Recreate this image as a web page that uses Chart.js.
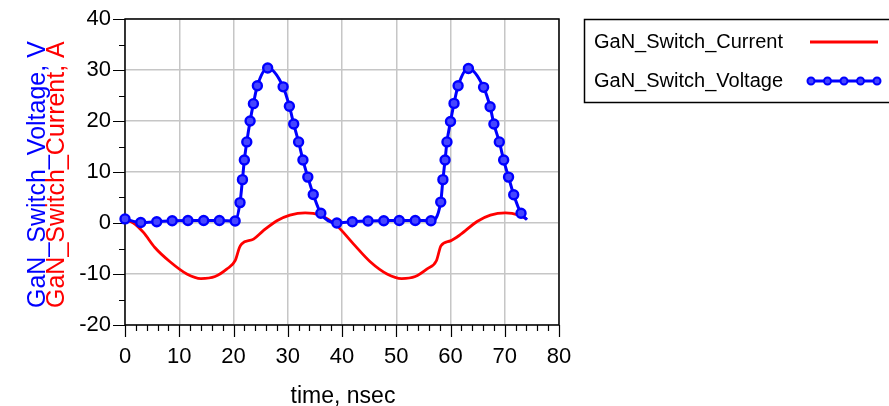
<!DOCTYPE html>
<html lang="en">
<head>
<meta charset="UTF-8">
<title>GaN switch waveforms</title>
<script src="https://cdn.jsdelivr.net/npm/chart.js"></script>
<style>
  body { margin: 0; background: #fff; }
  #wrap { width: 889px; height: 406px; }
</style>
</head>
<body>
<div id="wrap"><canvas id="waveChart" width="889" height="406"></canvas></div>
<script>
// values (time in ns)
const voltTime = [0, 2.9, 5.85, 8.7, 11.6, 14.5, 17.4, 20.3, 21.2, 21.65, 22.0, 22.45, 23.06, 23.67, 24.4, 26.3,
  29.15, 30.3, 31.1, 32.0, 32.8, 33.7, 34.7, 36.1, 39.05, 41.9, 44.8, 47.7, 50.55, 53.5, 56.4, 58.2, 58.6, 59.0,
  59.35, 60.0, 60.65, 61.4, 63.3, 66.1, 67.3, 68.0, 69.0, 69.8, 70.7, 71.65, 73.0, 74.1];
const voltValues = [0.8, 0.1, 0.25, 0.45, 0.5, 0.5, 0.5, 0.4, 4.0, 8.5, 12.35, 15.9, 20.0, 23.4, 26.9, 30.4,
  26.7, 22.9, 19.4, 15.9, 12.35, 9.0, 5.6, 1.9, 0.0, 0.25, 0.4, 0.45, 0.5, 0.5, 0.45, 4.1, 8.5, 12.35,
  15.9, 19.9, 23.45, 26.9, 30.3, 26.6, 22.8, 19.4, 15.9, 12.35, 9.0, 5.55, 1.9, 0.65];

const currTime = [0, 1.55, 3.4, 5.5, 8.3, 11.4, 14.0, 16.6, 18.8, 20.3, 21.1, 21.5, 23.7, 25.5, 28.0, 30.4, 33.2,
  35.9, 39.05, 42.1, 45.2, 48.3, 51.0, 53.5, 55.7, 57.4, 58.25, 60.0, 61.8, 64.9, 67.35, 70.1, 72.6, 74.0];
const currValues = [0.65, 0, -1.85, -4.8, -7.6, -10.0, -10.9, -10.5, -9.0, -7.4, -4.8, -4.1, -3.15, -1.5, 0.45, 1.55, 2.0,
  1.55, -0.55, -4.1, -7.6, -10.0, -10.9, -10.5, -9.0, -7.4, -4.45, -3.5, -2.3, 0.3, 1.55, 2.0, 1.55, 0.8];

const xTicks = [0, 10, 20, 30, 40, 50, 60, 70, 80];
const yTicks = [-20, -10, 0, 10, 20, 30, 40];

const FONT = 'Liberation Sans, Arial, sans-serif';
const BLUE = '#0000ff';
const RED = '#ff0000';

function pairs(xs, ys) {
  return xs.map((x, i) => ({ x: x, y: ys[i] }));
}

// frame, minor ticks, two-colour axis title and the boxed legend
const decorations = {
  id: 'decorations',
  beforeDatasetsDraw(chart) {
    const { ctx, chartArea: a, scales } = chart;
    ctx.save();
    ctx.strokeStyle = '#000';
    ctx.lineWidth = 1.5;
    ctx.strokeRect(a.left, a.top, a.right - a.left, a.bottom - a.top);
    ctx.lineWidth = 1.2;
    ctx.beginPath();
    for (let v = xTicks[0]; v <= xTicks[xTicks.length - 1]; v += 2) {
      const px = Math.round(scales.x.getPixelForValue(v)) + 0.5;
      const len = v % 10 === 0 ? 12 : 6;
      ctx.moveTo(px, a.bottom);
      ctx.lineTo(px, a.bottom + len);
    }
    for (let v = yTicks[0]; v <= yTicks[yTicks.length - 1]; v += 5) {
      const py = Math.round(scales.y.getPixelForValue(v)) + 0.5;
      const len = v % 10 === 0 ? 12 : 6;
      ctx.moveTo(a.left, py);
      ctx.lineTo(a.left - len, py);
    }
    ctx.stroke();
    ctx.restore();
  },
  afterDraw(chart) {
    const { ctx, chartArea: a } = chart;
    const sets = chart.data.datasets;
    ctx.save();

    // y titles, rotated
    ctx.font = '25px ' + FONT;
    ctx.textBaseline = 'alphabetic';
    ctx.textAlign = 'left';
    ctx.translate(45, 308);
    ctx.rotate(-Math.PI / 2);
    ctx.fillStyle = BLUE;
    ctx.fillText('GaN_Switch_Voltage, V', 0, 0);
    ctx.fillStyle = RED;
    ctx.fillText('GaN_Switch_Current, A', 0, 19);
    ctx.setTransform(1, 0, 0, 1, 0, 0);

    // x title
    ctx.fillStyle = '#000';
    ctx.font = '23px ' + FONT;
    ctx.textAlign = 'center';
    ctx.fillText('time, nsec', (a.left + a.right) / 2 + 1, 403);

    // legend box
    ctx.strokeStyle = '#000';
    ctx.lineWidth = 1.5;
    ctx.strokeRect(584.5, 19.5, 320, 83);
    ctx.font = '20px ' + FONT;
    ctx.textAlign = 'left';
    ctx.textBaseline = 'middle';
    const rows = [sets[1], sets[0]];
    rows.forEach((ds, i) => {
      const y = 42 + i * 39;
      ctx.fillStyle = '#000';
      ctx.fillText(ds.label, 594, y);
      ctx.strokeStyle = ds.borderColor;
      ctx.lineWidth = 3;
      ctx.beginPath();
      ctx.moveTo(810, y);
      ctx.lineTo(878, y);
      ctx.stroke();
      if (ds.pointRadius) {
        ctx.lineWidth = 2;
        for (let k = 0; k < 5; k++) {
          ctx.beginPath();
          ctx.arc(811 + k * 16.5, y, 3.5, 0, Math.PI * 2);
          ctx.fillStyle = ds.pointBackgroundColor;
          ctx.fill();
          ctx.stroke();
        }
      }
    });
    ctx.restore();
  }
};

new Chart(document.getElementById('waveChart'), {
  type: 'line',
  data: {
    datasets: [
      {
        label: 'GaN_Switch_Voltage',
        data: pairs(voltTime, voltValues),
        borderColor: BLUE,
        borderWidth: 3,
        pointRadius: c => (c.dataIndex === voltTime.length - 1 ? 0 : 4.5),
        pointBorderWidth: 2.4,
        pointBackgroundColor: '#4646ff',
        pointBorderColor: BLUE,
        cubicInterpolationMode: 'monotone',
        clip: 8,
        order: 1
      },
      {
        label: 'GaN_Switch_Current',
        data: pairs(currTime, currValues),
        borderColor: RED,
        borderWidth: 2.8,
        pointRadius: 0,
        cubicInterpolationMode: 'monotone',
        order: 2
      }
    ]
  },
  options: {
    responsive: false,
    animation: false,
    layout: { padding: { left: 0, right: 330, top: 19, bottom: 0 } },
    plugins: { legend: { display: false }, tooltip: { enabled: false } },
    scales: {
      x: {
        type: 'linear',
        min: xTicks[0],
        max: xTicks[xTicks.length - 1],
        afterBuildTicks: s => { s.ticks = xTicks.map(v => ({ value: v })); },
        afterFit: s => { s.height = 81; s.paddingLeft = 0; s.paddingRight = 0; },
        grid: { color: '#c6c6c6', lineWidth: 1.5, drawTicks: false },
        border: { display: false },
        ticks: { color: '#000', font: { family: FONT, size: 22 }, padding: 19, maxRotation: 0 }
      },
      y: {
        type: 'linear',
        min: yTicks[0],
        max: yTicks[yTicks.length - 1],
        afterBuildTicks: s => { s.ticks = yTicks.map(v => ({ value: v })); },
        afterFit: s => { s.width = 125; s.paddingTop = 0; s.paddingBottom = 0; },
        grid: { color: '#c6c6c6', lineWidth: 1.5, drawTicks: false },
        border: { display: false },
        ticks: { color: '#000', font: { family: FONT, size: 22 }, padding: 14 }
      }
    }
  },
  plugins: [decorations]
});
</script>
</body>
</html>
